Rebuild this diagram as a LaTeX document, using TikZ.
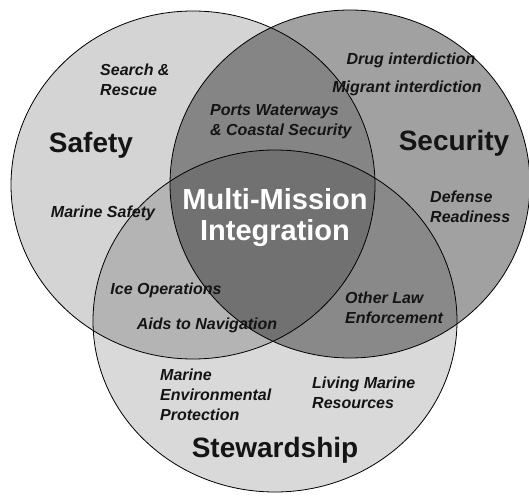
\documentclass[tikz,border=0pt]{standalone}
\usepackage{fontspec}
\setmainfont{Liberation Sans}
\begin{document}
\begin{tikzpicture}[x=1pt,y=-1pt,
  ring/.style={draw=black, line width=0.8pt},
  item/.style={font=\fontsize{16}{20}\selectfont\bfseries\itshape, align=left, inner sep=0pt, text=black!92},
  area/.style={font=\fontsize{28}{32}\selectfont\bfseries, inner sep=0pt, text=black!92},
  core/.style={font=\fontsize{29}{34}\selectfont\bfseries, text=white, align=center, inner sep=0pt}]
\useasboundingbox (0,0) rectangle (529,502);
\fill[white] (0,0) rectangle (529,502);

% the three mission circles, shaded so that overlaps darken
\fill[black, fill opacity=0.17] (193,185) ellipse [x radius=182, y radius=174];
\fill[black, fill opacity=0.37] (350,184) ellipse [x radius=180, y radius=174];
\fill[black, fill opacity=0.15] (275,321) ellipse [x radius=182, y radius=171];
\draw[ring] (193,185) ellipse [x radius=182, y radius=174];
\draw[ring] (350,184) ellipse [x radius=180, y radius=174];
\draw[ring] (275,321) ellipse [x radius=182, y radius=171];

% circle titles
\node[area] (safety) at (91,145) {Safety};
\node[area] (security) at (454,143) {Security};
\node[area] (stewardship) at (275,450) {Stewardship};

% centre
\node[core] (multi) at (275,199) {Multi-Mission};
\node[core] (integ) at (275,233) {Integration};

% missions
\node[item, anchor=west] (sar) at (100,80) {Search \&\\Rescue};
\node[item] (msafety) at (103,213) {Marine Safety};
\node[item, anchor=west] (ports) at (210,122) {Ports Waterways\\\& Coastal Security};
\node[item] (drug) at (411,60) {Drug interdiction};
\node[item] (migrant) at (407,88) {Migrant interdiction};
\node[item, anchor=west] (defense) at (430,207) {Defense\\Readiness};
\node[item] (ice) at (166,290) {Ice Operations};
\node[item] (aids) at (207,325) {Aids to Navigation};
\node[item, anchor=west] (law) at (345,308) {Other Law\\Enforcement};
\node[item, anchor=west] (mep) at (160,395) {Marine\\Environmental\\Protection};
\node[item, anchor=west] (lmr) at (312,393) {Living Marine\\Resources};
\end{tikzpicture}
\end{document}
